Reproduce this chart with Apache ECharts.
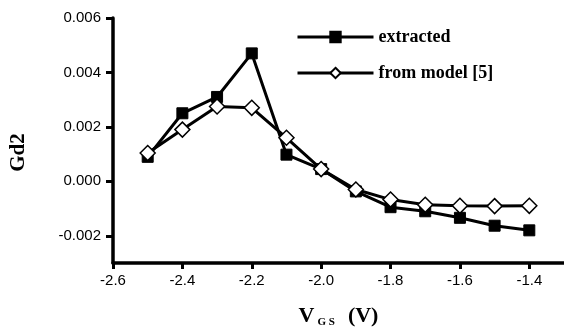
<!DOCTYPE html>
<html>
<head>
<meta charset="utf-8">
<script src="https://cdn.jsdelivr.net/npm/echarts@6/dist/echarts.min.js"></script>
<style>
  html, body { margin: 0; padding: 0; background: #fff; }
  #chart { width: 564px; height: 336px; }
</style>
</head>
<body>
<div id="chart"></div>
<script>
// VGS values (V)
const vgs = [-2.5, -2.4, -2.3, -2.2, -2.1, -2.0, -1.9, -1.8, -1.7, -1.6, -1.5, -1.4];
const extracted = [0.0009, 0.0025, 0.0031, 0.0047, 0.00098, 0.00045, -0.00037, -0.00095, -0.0011, -0.00134, -0.00163, -0.0018];
const fromModel = [0.00104, 0.0019, 0.00275, 0.0027, 0.0016, 0.00045, -0.0003, -0.00067, -0.00086, -0.0009, -0.00091, -0.0009];
const xTicks = [-2.6, -2.4, -2.2, -2.0, -1.8, -1.6, -1.4];
const yTicks = [-0.002, 0, 0.002, 0.004, 0.006];

const pairs = (ys) => vgs.map((x, i) => [x, ys[i]]);

let chart = echarts.init(document.getElementById('chart'));

const labelFont = {
    color: '#000',
    fontFamily: 'Liberation Sans, Arial, sans-serif',
    fontSize: 15
};

chart.setOption({
    animation: false,
    grid: { left: 113, right: 0, top: 18, bottom: 73, outerBoundsMode: 'none', containLabel: false },
    legend: {
        orient: 'vertical',
        left: 291,
        top: 23,
        itemWidth: 76,
        itemHeight: 13,
        itemGap: 18,
        lineStyle: { width: 3, color: '#000' },
        textStyle: {
            color: '#000',
            fontFamily: 'Liberation Serif, Times New Roman, serif',
            fontWeight: 'bold',
            fontSize: 18
        },
        data: ['extracted', 'from model [5]']
    },
    xAxis: {
        type: 'value',
        min: -2.6,
        max: -1.3,
        name: '{v|V}{s|G S}{v|  (V)}',
        nameLocation: 'middle',
        nameGap: 42,
        nameTextStyle: {
            rich: {
                v: { fontFamily: 'Liberation Serif, serif', fontWeight: 'bold', fontSize: 22, color: '#000' },
                s: { fontFamily: 'Liberation Serif, serif', fontWeight: 'bold', fontSize: 11, color: '#000', verticalAlign: 'bottom', padding: [12, 2, 0, 3] }
            }
        },
        axisLine: { onZero: false, lineStyle: { color: '#000', width: 3.5 } },
        axisTick: { show: true, length: 6, lineStyle: { width: 3, color: '#000' }, customValues: xTicks },
        axisLabel: Object.assign({ margin: 10, customValues: xTicks, formatter: (v) => v.toFixed(1) }, labelFont),
        splitLine: { show: false }
    },
    yAxis: {
        type: 'value',
        min: -0.003,
        max: 0.006,
        name: 'Gd2',
        nameLocation: 'middle',
        nameGap: 84,
        nameRotate: 90,
        nameTextStyle: {
            fontFamily: 'Liberation Serif, serif',
            fontWeight: 'bold',
            fontSize: 21,
            color: '#000',
            padding: [0, 24, 0, 0]
        },
        axisLine: { show: true, onZero: false, lineStyle: { color: '#000', width: 3.5 } },
        axisTick: { show: true, length: 7, lineStyle: { width: 3, color: '#000' }, customValues: yTicks },
        axisLabel: Object.assign({ margin: 12, customValues: yTicks, formatter: (v) => v.toFixed(3) }, labelFont),
        splitLine: { show: false }
    },
    series: [
        {
            name: 'extracted',
            type: 'line',
            data: pairs(extracted),
            symbol: 'rect',
            symbolSize: 11,
            lineStyle: { color: '#000', width: 3 },
            itemStyle: { color: '#000', borderColor: '#000', borderWidth: 1 }
        },
        {
            name: 'from model [5]',
            type: 'line',
            data: pairs(fromModel),
            symbol: 'diamond',
            symbolSize: 15,
            lineStyle: { color: '#000', width: 3 },
            itemStyle: { color: '#fff', borderColor: '#000', borderWidth: 1.5 },
            z: 3
        }
    ]
});
</script>
</body>
</html>
